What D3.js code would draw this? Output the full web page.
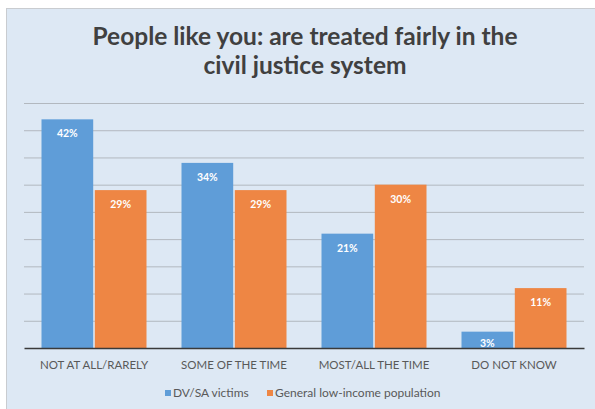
<!DOCTYPE html>
<html>
<head>
<meta charset="utf-8">
<script src="https://cdn.jsdelivr.net/npm/d3@7"></script>
<style>
  html, body { margin: 0; padding: 0; background: #ffffff; }
  svg { display: block; }
</style>
</head>
<body>
<script>
// Survey responses: "People like you are treated fairly in the civil justice system"
const categories = ["NOT AT ALL/RARELY", "SOME OF THE TIME", "MOST/ALL THE TIME", "DO NOT KNOW"];
const seriesNames = ["DV/SA victims", "General low-income population"];
const victims = [42, 34, 21, 3];
const lowIncome = [29, 29, 30, 11];
const seriesColors = ["#5f9dd8", "#ee8644"];
const gridTicks = [0, 5, 10, 15, 20, 25, 30, 35, 40, 45];

const W = 595, H = 409;
const svg = d3.select("body").append("svg").attr("width", W).attr("height", H);

// Chart panel
svg.append("rect")
  .attr("x", 6.5).attr("y", 8.5).attr("width", W - 6).attr("height", H - 8)
  .attr("fill", "#dde8f4").attr("stroke", "#c9ccd0").attr("stroke-width", 1);

// Title
const title = svg.append("text")
  .attr("text-anchor", "middle")
  .attr("font-family", "Lato, 'Open Sans', sans-serif")
  .attr("font-weight", 700)
  .attr("font-size", 24.5)
  .attr("fill", "#404040");
title.append("tspan").attr("x", 305).attr("y", 45).text("People like you: are treated fairly in the");
title.append("tspan").attr("x", 305).attr("y", 74).text("civil justice system");

const plot = { left: 24, right: 584, top: 103, bottom: 348 };

const x0 = d3.scaleBand().domain(categories)
  .range([plot.left, plot.right]).paddingInner(0.25).paddingOuter(0.125);
const x1 = d3.scaleBand().domain(seriesNames)
  .range([0, x0.bandwidth()]).paddingInner(0.03);
const y = d3.scaleLinear().domain([0, 45]).range([plot.bottom, plot.top]);

// Horizontal gridlines
svg.append("g")
  .attr("transform", `translate(${plot.left},0)`)
  .call(d3.axisLeft(y).tickValues(gridTicks.slice(1)).tickSize(-(plot.right - plot.left)).tickFormat(""))
  .call(g => g.select(".domain").remove())
  .call(g => g.selectAll(".tick line").attr("stroke", "#b2b8bf").attr("stroke-width", 1));

const rows = categories.map((c, i) => ({ cat: c, vals: [victims[i], lowIncome[i]] }));

const groups = svg.append("g").selectAll("g").data(rows).join("g")
  .attr("transform", d => `translate(${x0(d.cat)},0)`);

groups.selectAll("rect")
  .data(d => d.vals.map((v, j) => ({ v, s: seriesNames[j], j })))
  .join("rect")
  .attr("x", d => x1(d.s))
  .attr("y", d => y(d.v))
  .attr("width", x1.bandwidth())
  .attr("height", d => y(0) - y(d.v))
  .attr("fill", d => seriesColors[d.j]);

// Value labels inside the bar ends
groups.selectAll("text.val")
  .data(d => d.vals.map((v, j) => ({ v, s: seriesNames[j], j })))
  .join("text")
  .attr("class", "val")
  .attr("x", d => x1(d.s) + x1.bandwidth() / 2)
  .attr("y", d => Math.min(y(d.v) + 18, y(0) - 1))
  .attr("text-anchor", "middle")
  .attr("font-family", "Lato, 'Open Sans', sans-serif")
  .attr("font-weight", 700)
  .attr("font-size", 10.5)
  .attr("fill", "#ffffff")
  .text(d => d.v + "%");

// Category axis
const xAxis = svg.append("g")
  .attr("transform", `translate(0,${plot.bottom})`)
  .call(d3.axisBottom(x0).tickSize(0).tickPadding(13));
xAxis.select(".domain").attr("stroke", "#3a3a3a").attr("stroke-width", 1.5);
xAxis.selectAll(".tick text")
  .attr("font-family", "Lato, 'Open Sans', sans-serif")
  .attr("font-size", 11.5)
  .attr("fill", "#595959");

// Legend
const legendItems = [
  { name: seriesNames[0], color: seriesColors[0], x: 165 },
  { name: seriesNames[1], color: seriesColors[1], x: 267 }
];
const legend = svg.append("g").selectAll("g").data(legendItems).join("g")
  .attr("transform", d => `translate(${d.x},393)`);
legend.append("rect").attr("x", 0).attr("y", -3).attr("width", 6).attr("height", 6)
  .attr("fill", d => d.color);
legend.append("text").attr("x", 8).attr("y", 4)
  .attr("font-family", "Lato, 'Open Sans', sans-serif")
  .attr("font-size", 12)
  .attr("fill", "#595959")
  .text(d => d.name);
</script>
</body>
</html>
